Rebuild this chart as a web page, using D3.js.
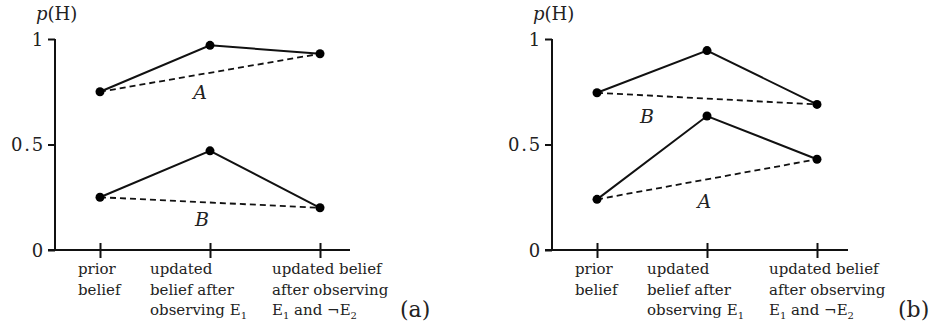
<!DOCTYPE html>
<html>
<head>
<meta charset="utf-8">
<script src="https://cdn.jsdelivr.net/npm/d3@7"></script>
<style>
  body { margin: 0; background: #fff; }
  svg text { font-family: "DejaVu Serif", "Liberation Serif", serif; fill: #222; }
</style>
</head>
<body>
<svg width="931" height="327"></svg>
<script>
// stages along the x axis (each label is split into lines, "_" marks a subscript)
var stages = ["prior", "e1", "e2"];
var stageLabels = [
    [["prior"], ["belief"]],
    [["updated"], ["belief after"], ["observing E", "_1"]],
    [["updated belief"], ["after observing"], ["E", "_1", " and \u00acE", "_2"]]
];

var yTicks = [0, 0.5, 1];
var yTickLabels = ["0", "0.5", "1"];

// panel (a)
var panelA_A = [0.75, 0.97, 0.93];
var panelA_B = [0.25, 0.47, 0.20];
// panel (b)
var panelB_A = [0.24, 0.635, 0.43];
var panelB_B = [0.745, 0.945, 0.69];

var panels = [
    {tag: "(a)", x0: 55, x1: 350, series: [
        {name: "A", values: panelA_A, labelAt: [0.455, 25]},
        {name: "B", values: panelA_B, labelAt: [0.464, 24]}]},
    {tag: "(b)", x0: 552, x1: 848, series: [
        {name: "A", values: panelB_A, labelAt: [0.488, 28]},
        {name: "B", values: panelB_B, labelAt: [0.227, 28]}]}
];

var svg = d3.select('svg');
var yTop = 39, yBottom = 250;
var serif = '"DejaVu Serif", serif';

var yScale = d3.scaleLinear().domain([0, 1]).range([yBottom, yTop]);

panels.forEach(function(p) {
    var g = svg.append('g');

    var xScale = d3.scalePoint()
        .domain(stages)
        .range([p.x0 + 45, p.x0 + 265]);

    // y axis
    var yAxis = g.append('g')
        .attr('transform', 'translate(' + p.x0 + ',0)')
        .call(d3.axisLeft(yScale).tickValues(yTicks)
            .tickFormat(function(d, i) { return yTickLabels[i]; })
            .tickSize(7).tickSizeOuter(0));
    yAxis.select('.domain').remove();
    yAxis.selectAll('line').attr('stroke', '#111').attr('stroke-width', 2);
    yAxis.selectAll('text')
        .attr('x', -10)
        .attr('dy', '0.35em')
        .style('font-family', serif)
        .style('font-size', '18px')
        .style('letter-spacing', '1.8px')
        .attr('fill', '#222');
    g.append('line')
        .attr('x1', p.x0).attr('x2', p.x0)
        .attr('y1', yScale(1)).attr('y2', yScale(0))
        .attr('stroke', '#111').attr('stroke-width', 2);

    // x axis
    var xAxis = g.append('g')
        .attr('transform', 'translate(0,' + yBottom + ')')
        .call(d3.axisBottom(xScale).tickSize(8).tickSizeOuter(0).tickFormat(''));
    xAxis.select('.domain').remove();
    xAxis.selectAll('line').attr('y1', -7).attr('stroke', '#111').attr('stroke-width', 2);
    g.append('line')
        .attr('x1', p.x0 - 7).attr('x2', p.x1)
        .attr('y1', yBottom).attr('y2', yBottom)
        .attr('stroke', '#111').attr('stroke-width', 2);

    // x category labels
    var offsets = [-22, -60, -48];
    stages.forEach(function(s, i) {
        var t = g.append('text')
            .attr('x', xScale(s) + offsets[i])
            .attr('y', 274)
            .style('font-family', serif)
            .style('font-size', '15px')
            .attr('fill', '#333');
        stageLabels[i].forEach(function(line, li) {
            line.forEach(function(part, pi) {
                var sp = t.append('tspan');
                if (pi === 0) sp.attr('x', xScale(s) + offsets[i]).attr('y', 274 + li * 20.5);
                if (part[0] === '_') {
                    sp.text(part.slice(1)).attr('dy', 4).style('font-size', '10px');
                } else {
                    sp.text(part);
                    if (pi > 0) sp.attr('dy', -4);
                }
            });
        });
    });

    // axis title
    var title = g.append('text')
        .attr('x', p.x0 - 19)
        .attr('y', 20)
        .style('font-family', serif)
        .style('font-size', '18px');
    title.append('tspan').text('p').style('font-style', 'italic');
    title.append('tspan').text('(H)');

    // series
    p.series.forEach(function(s) {
        var pts = stages.map(function(st, i) { return [xScale(st), yScale(s.values[i])]; });

        g.append('line')
            .attr('x1', pts[0][0]).attr('y1', pts[0][1])
            .attr('x2', pts[2][0]).attr('y2', pts[2][1])
            .attr('stroke', '#111').attr('stroke-width', 1.8)
            .attr('stroke-dasharray', '6,4');

        g.append('path')
            .datum(pts)
            .attr('d', d3.line())
            .attr('fill', 'none')
            .attr('stroke', '#111')
            .attr('stroke-width', 2);

        g.selectAll(null)
            .data(pts)
            .enter().append('circle')
            .attr('cx', function(d) { return d[0]; })
            .attr('cy', function(d) { return d[1]; })
            .attr('r', 4.5)
            .attr('fill', '#000');

        // series label just under the dashed line
        var lx = pts[0][0] + (pts[2][0] - pts[0][0]) * s.labelAt[0];
        var ly = pts[0][1] + (pts[2][1] - pts[0][1]) * s.labelAt[0] + s.labelAt[1];
        g.append('text')
            .attr('x', lx)
            .attr('y', ly)
            .attr('text-anchor', 'middle')
            .style('font-family', serif)
            .style('font-style', 'italic')
            .style('font-size', '19px')
            .text(s.name);
    });

    // panel tag
    g.append('text')
        .attr('x', p.x1 + 50)
        .attr('y', 317)
        .style('font-family', serif)
        .style('font-size', '22px')
        .text(p.tag);
});
</script>
</body>
</html>
